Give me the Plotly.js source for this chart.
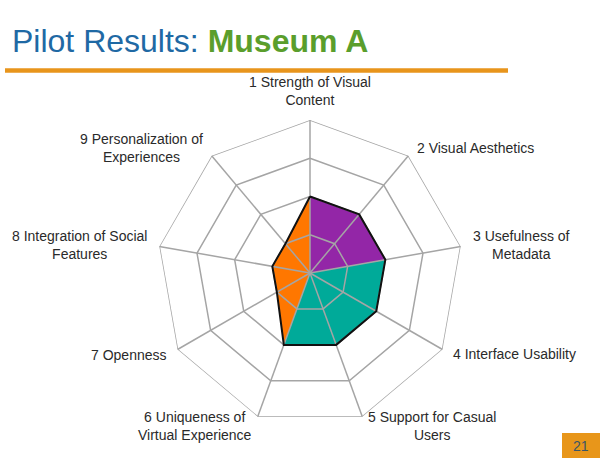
<!DOCTYPE html>
<html>
<head>
<meta charset="utf-8">
<script src="https://cdn.plot.ly/plotly-3.0.1.min.js"></script>
<style>
  html, body { margin: 0; padding: 0; background: #ffffff; }
  #chart { width: 600px; height: 458px; }
</style>
</head>
<body>
<div id="chart"></div>
<script>
// ---- data ----
const categories = [
  '1 Strength of Visual<br>Content',
  '2 Visual Aesthetics',
  '3 Usefulness of<br>Metadata',
  '4 Interface Usability',
  '5 Support for Casual<br>Users',
  '6 Uniqueness of<br>Virtual Experience',
  '7 Openness',
  '8 Integration of Social<br>Features',
  '9 Personalization of<br>Experiences'
];
const scores = [2, 2, 2, 2, 2, 2, 1, 1, 1];
const levels = [1, 2, 3, 4];
// colour groups: index ranges of categories (inclusive) for each filled wedge
const groupStart = [0, 2, 5];
const groupEnd   = [2, 5, 9];
const groupColors = ['#9326A7', '#00AA99', '#FF7700'];
const pageNumber = '21';

// ---- geometry of the page ----
const W = 600, H = 458;
const cx = 310, cy = 273, R = 153;
const maxLevel = levels[levels.length - 1];

const traces = [];
const n = categories.length;

// filled wedges
for (let g = 0; g < groupStart.length; g++) {
  const th = [categories[0]], rr = [0];
  for (let i = groupStart[g]; i <= groupEnd[g]; i++) {
    th.push(categories[i % n]);
    rr.push(scores[i % n]);
  }
  th.push(categories[0]); rr.push(0);
  traces.push({
    type: 'scatterpolar', mode: 'lines', theta: th, r: rr,
    fill: 'toself', fillcolor: groupColors[g],
    line: { width: 0, color: groupColors[g] }, hoverinfo: 'skip', showlegend: false
  });
}

// grid rings (drawn above fills)
levels.forEach(function (lv) {
  traces.push({
    type: 'scatterpolar', mode: 'lines',
    theta: categories.concat([categories[0]]),
    r: categories.map(function () { return lv; }).concat([lv]),
    line: { color: '#A5A5A5', width: 1.5 }, hoverinfo: 'skip', showlegend: false
  });
});
// spokes
const spTh = [], spR = [];
categories.forEach(function (c) { spTh.push(c, c, null); spR.push(0, maxLevel, null); });
traces.push({
  type: 'scatterpolar', mode: 'lines', theta: spTh, r: spR, connectgaps: false,
  line: { color: '#A5A5A5', width: 1.5 }, hoverinfo: 'skip', showlegend: false
});

// black outline of the score polygon
traces.push({
  type: 'scatterpolar', mode: 'lines',
  theta: categories.concat([categories[0]]),
  r: scores.concat([scores[0]]),
  line: { color: '#111111', width: 2 }, hoverinfo: 'skip', showlegend: false
});

// category labels as annotations around the outer ring
const pad = 10;
const annotations = categories.map(function (c, i) {
  const a = i * 2 * Math.PI / n;
  const s = Math.sin(a), co = Math.cos(a);
  const px = cx + (R + pad) * s;
  const py = cy - (R + pad) * co;
  let xanchor = 'center';
  if (s > 0.1) xanchor = 'left'; else if (s < -0.1) xanchor = 'right';
  const yanchor = (co > 0.9) ? 'bottom' : 'middle';
  return {
    text: c, xref: 'paper', yref: 'paper', x: px / W, y: 1 - py / H,
    xanchor: xanchor, yanchor: yanchor, align: 'center', showarrow: false,
    font: { family: 'Liberation Sans, Arial, sans-serif', size: 14, color: '#2a2a2a' }
  };
});
annotations.push({
  text: pageNumber, xref: 'paper', yref: 'paper', x: 581 / W, y: 1 - 446 / H,
  xanchor: 'center', yanchor: 'middle', showarrow: false,
  font: { family: 'Liberation Sans, Arial, sans-serif', size: 14, color: '#3B5566' }
});

const layout = {
  width: W, height: H,
  margin: { l: 0, r: 0, t: 0, b: 0 },
  paper_bgcolor: '#ffffff',
  showlegend: false,
  title: {
    text: '<span style="color:#1F69A4">Pilot Results: </span><b><span style="color:#5A9E2C">Museum A</span></b>',
    font: { family: 'Liberation Sans, Arial, sans-serif', size: 32 },
    xref: 'paper', yref: 'container', x: 12 / W, xanchor: 'left', y: 1 - 41 / H, yanchor: 'middle'
  },
  polar: {
    domain: { x: [(cx - R) / W, (cx + R) / W], y: [(H - cy - R) / H, (H - cy + R) / H] },
    gridshape: 'linear',
    bgcolor: 'rgba(0,0,0,0)',
    radialaxis: { range: [0, maxLevel], visible: false, showgrid: false },
    angularaxis: {
      type: 'category', categoryarray: categories, rotation: 90, direction: 'clockwise',
      showticklabels: false, showgrid: false, showline: false, ticks: ''
    }
  },
  shapes: [
    { type: 'line', xref: 'paper', yref: 'paper', x0: 5 / W, x1: 508 / W, y0: 1 - 70.5 / H, y1: 1 - 70.5 / H,
      line: { color: '#E8951C', width: 4.5 } },
    { type: 'rect', xref: 'paper', yref: 'paper', x0: 562 / W, x1: 600 / W, y0: 0, y1: 1 - 433 / H,
      fillcolor: '#E8961A', line: { width: 0 } }
  ],
  annotations: annotations
};

Plotly.newPlot('chart', traces, layout, { displayModeBar: false, staticPlot: true });
</script>
</body>
</html>
